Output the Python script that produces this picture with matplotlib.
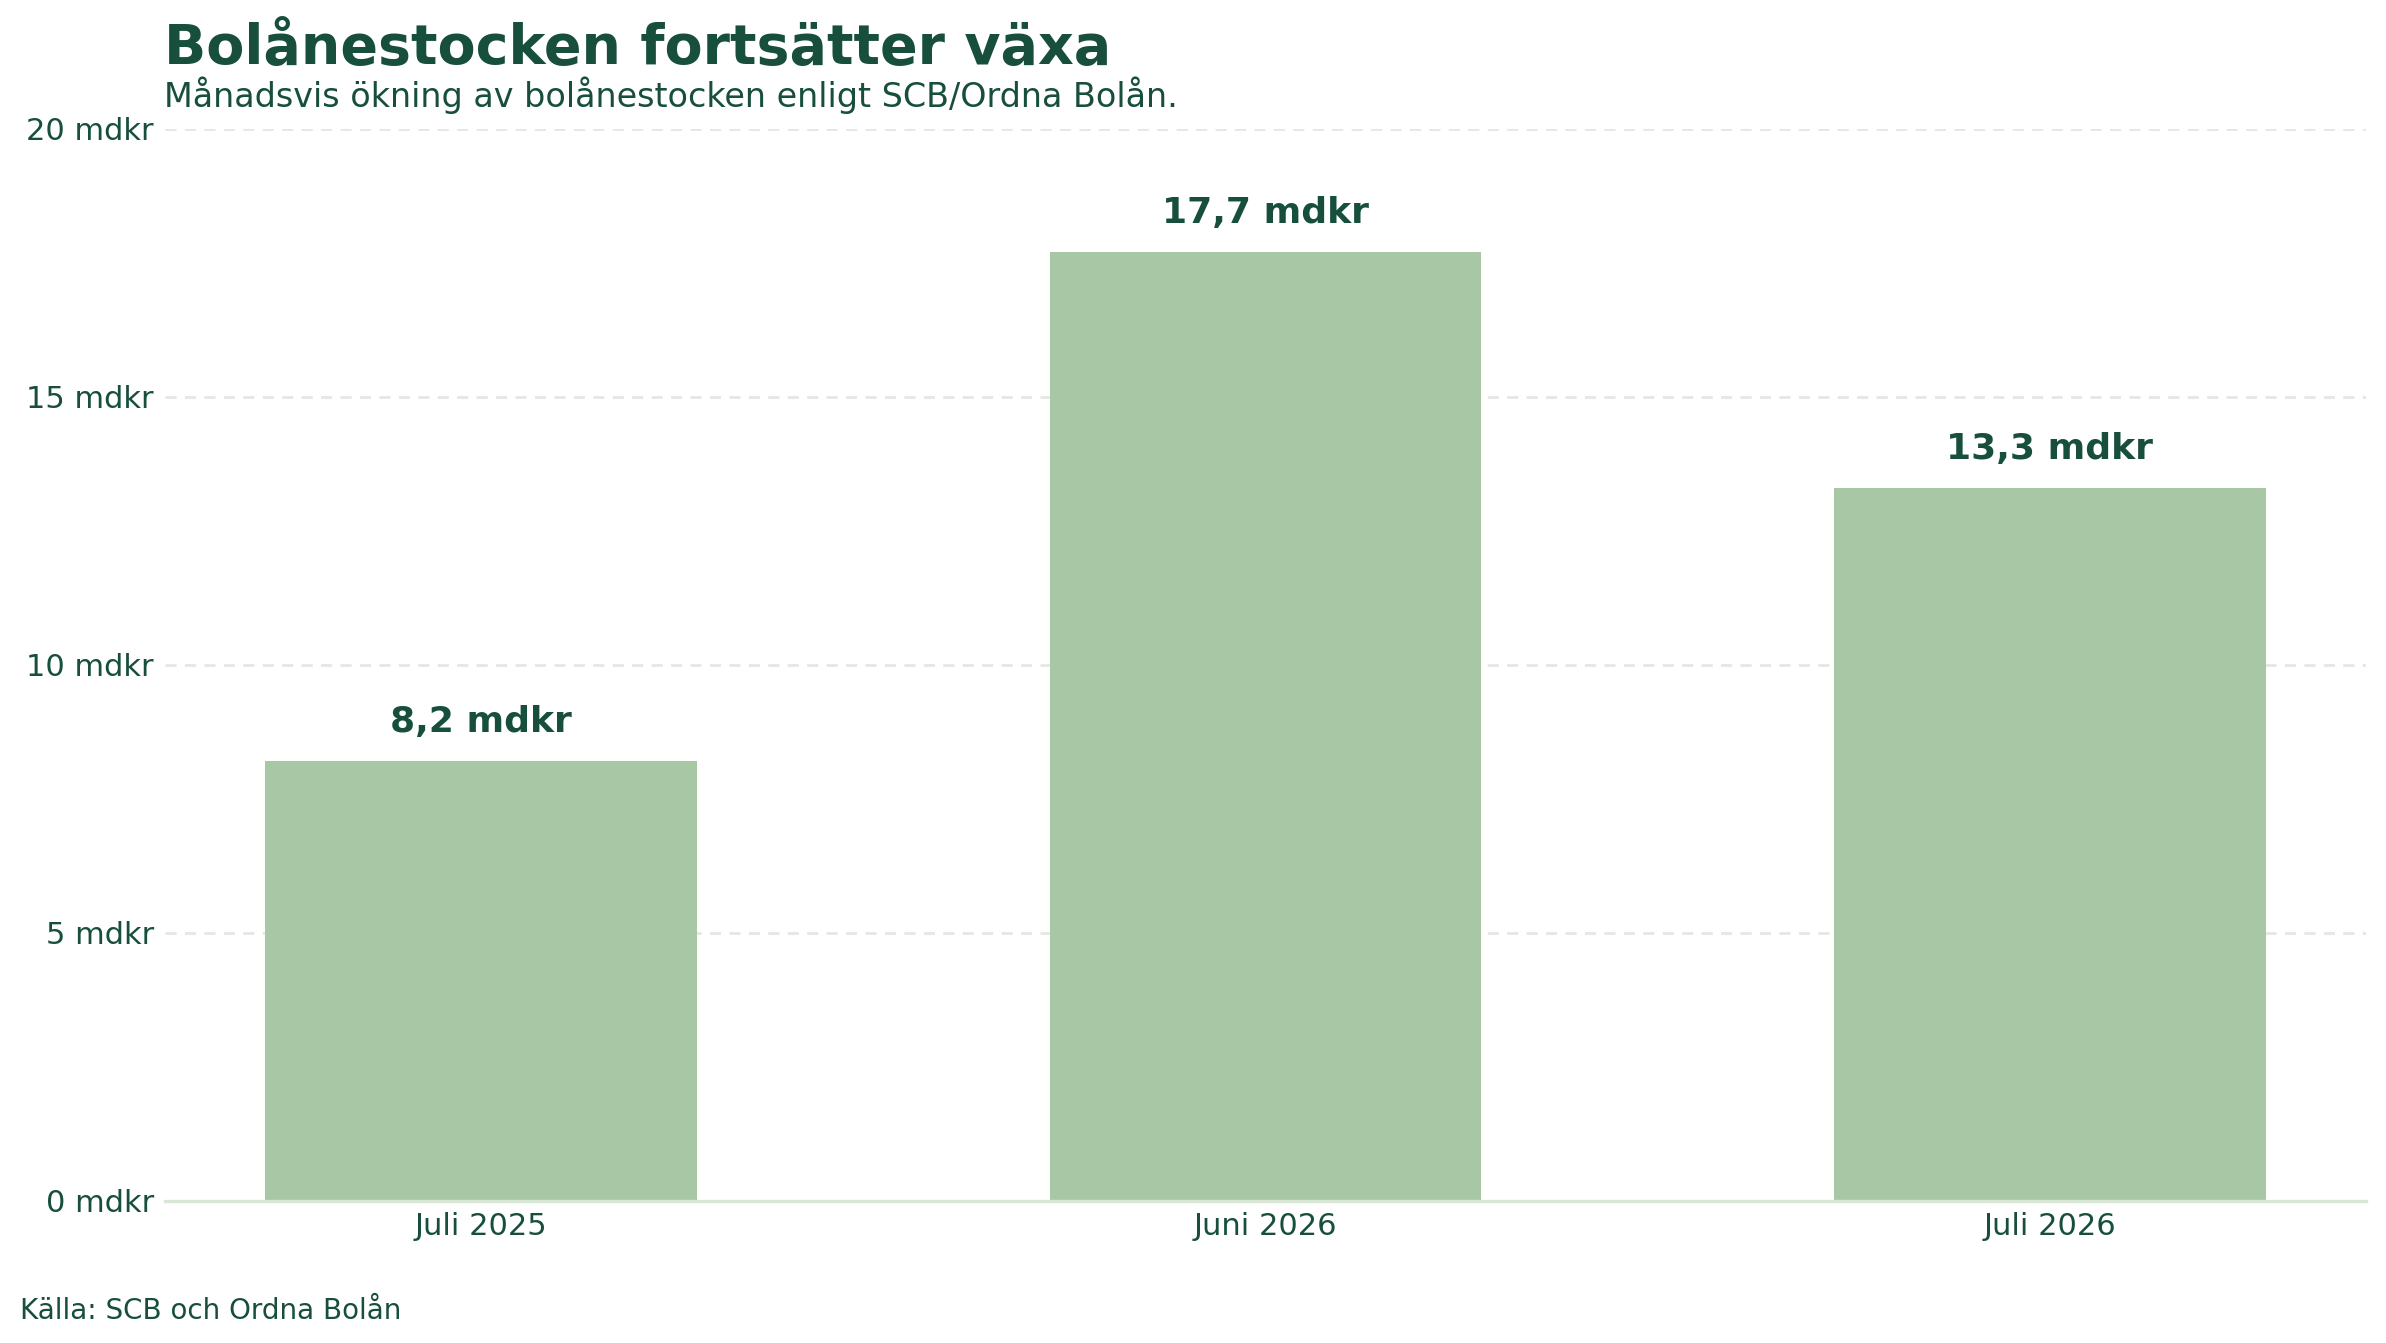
import matplotlib
matplotlib.use("Agg")
import matplotlib.pyplot as plt

# data
categories = ["Juli 2025", "Juni 2026", "Juli 2026"]
values = [8.2, 17.7, 13.3]
value_labels = ["8,2 mdkr", "17,7 mdkr", "13,3 mdkr"]
yticks = [0, 5, 10, 15, 20]
ytick_labels = ["0 mdkr", "5 mdkr", "10 mdkr", "15 mdkr", "20 mdkr"]

dark = "#174f3c"
bar_col = "#a8c8a5"
grid_col = "#e3e8e4"
spine_col = "#d9e8d6"

plt.rcParams["font.family"] = ["DejaVu Sans"]

fig = plt.figure(figsize=(2386 / 200, 1343 / 200), dpi=200)
ax = fig.add_axes([0.0692, 0.1059, 0.9915 - 0.0692, 0.9042 - 0.1059])

x = range(len(categories))
ax.bar(x, values, width=0.55, color=bar_col, zorder=2)
for xi, v, lab in zip(x, values, value_labels):
    ax.annotate(lab, (xi, v), xytext=(0, 8), textcoords="offset points",
                ha="center", va="bottom", fontsize=13, fontweight="bold",
                color=dark)

ax.set_ylim(0, 20)
ax.set_yticks(yticks)
ax.set_yticklabels(ytick_labels)
ax.set_xticks(list(x))
ax.set_xticklabels(categories)
ax.tick_params(axis="both", length=0, labelsize=11, colors=dark, pad=4)
ax.yaxis.grid(True, linestyle=(0, (4, 3)), color=grid_col, linewidth=1, zorder=0)
ax.set_axisbelow(True)
for s in ["top", "right", "left"]:
    ax.spines[s].set_visible(False)
ax.spines["bottom"].set_color(spine_col)
ax.spines["bottom"].set_linewidth(1.2)

fig.text(0.0687, 0.952, "Bolånestocken fortsätter växa", fontsize=20,
         fontweight="bold", color=dark, va="baseline")
fig.text(0.0687, 0.920, "Månadsvis ökning av bolånestocken enligt SCB/Ordna Bolån.",
         fontsize=12, color=dark, va="baseline")
fig.text(0.0084, 0.0178, "Källa: SCB och Ordna Bolån", fontsize=10,
         color=dark, va="baseline")

fig.savefig("out.png", dpi=200)
